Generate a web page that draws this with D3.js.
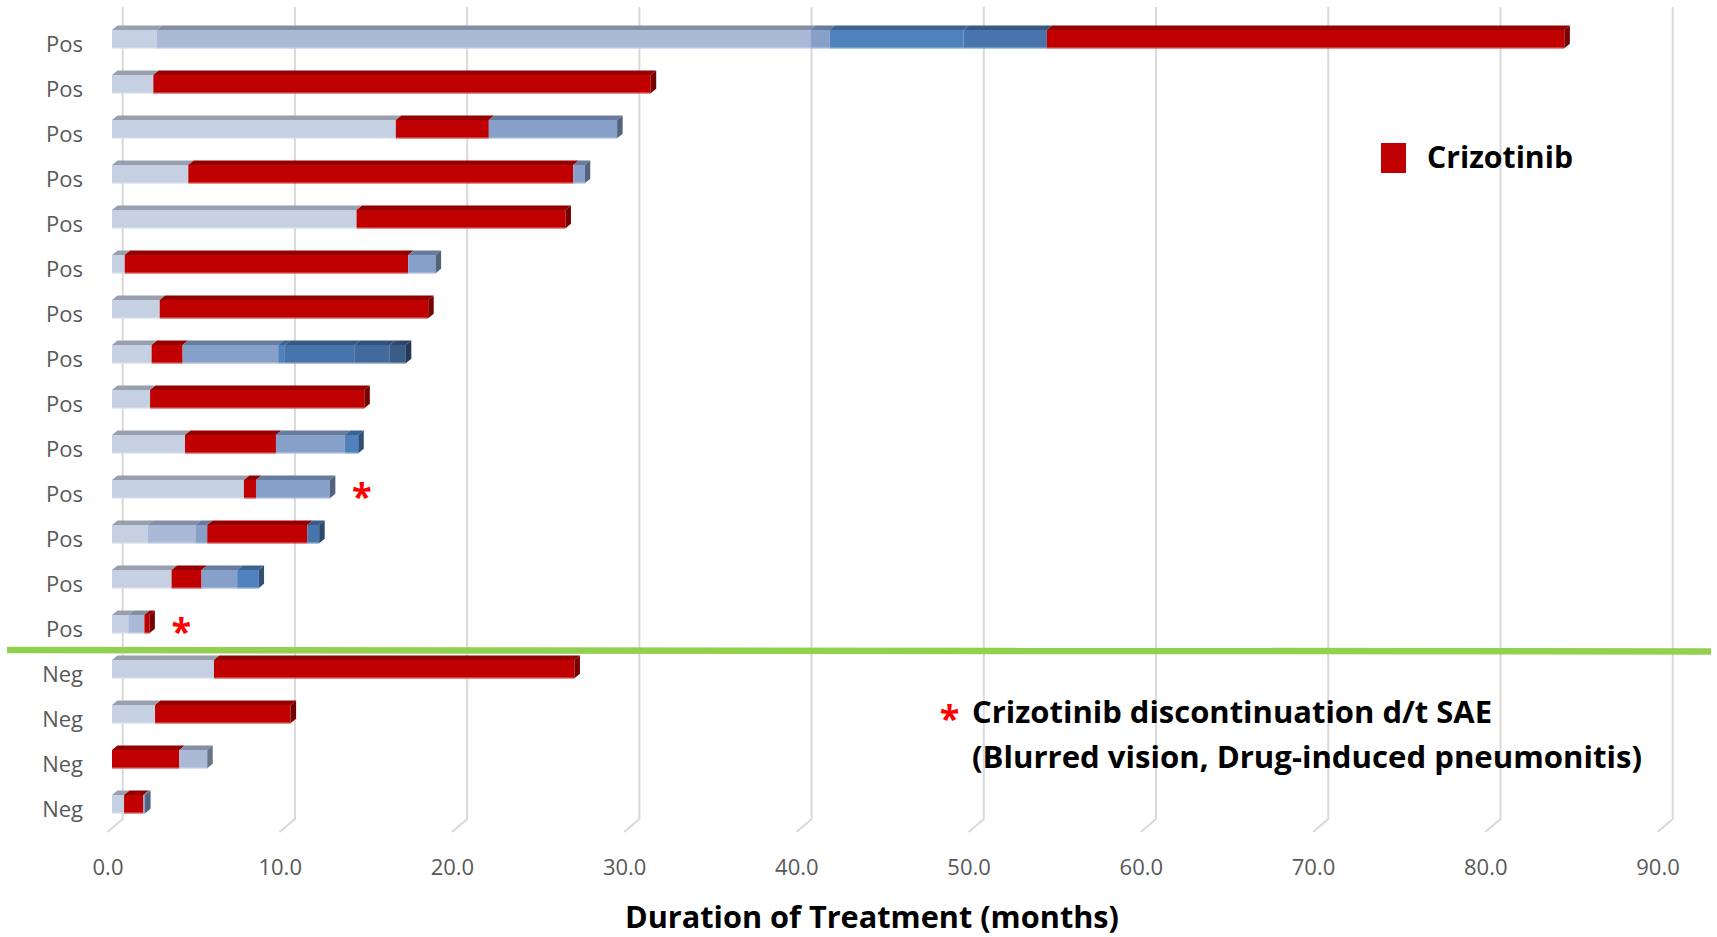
<!DOCTYPE html>
<html>
<head>
<meta charset="utf-8">
<script src="https://cdn.jsdelivr.net/npm/d3@7"></script>
<style>
  html, body { margin: 0; padding: 0; background: #ffffff; }
  svg { display: block; }
</style>
</head>
<body>
<svg id="chart" width="1717" height="937"></svg>
<script>
// Patients (rows, top to bottom) with ALK status
const categories = ["Pos","Pos","Pos","Pos","Pos","Pos","Pos","Pos","Pos","Pos","Pos","Pos","Pos","Pos","Neg","Neg","Neg","Neg"];

// Duration (months) of each successive line of treatment per patient
const line1 = [2.59, 2.40, 16.48, 4.43, 14.20, 0.74, 2.77, 2.30, 2.21, 4.24, 7.66, 2.07, 3.46, 0.95, 5.92, 2.50, 3.91, 0.70];
const line2 = [37.96, 28.88, 5.40, 22.35, 12.13, 16.46, 15.59, 1.80, 12.44, 5.28, 0.70, 2.77, 1.74, 0.93, 20.93, 7.87, 1.62, 1.12];
const line3 = [1.12, 0, 7.45, 0.67, 0, 1.59, 0, 5.55, 0, 4.00, 4.29, 0.69, 2.07, 0.29, 0, 0, 0, 0.10];
const line4 = [7.78, 0, 0, 0, 0, 0, 0, 0.39, 0, 0.78, 0, 5.81, 1.24, 0, 0, 0, 0, 0];
const line5 = [4.83, 0, 0, 0, 0, 0, 0, 4.06, 0, 0, 0, 0.69, 0, 0, 0, 0, 0, 0];
const line6 = [30.05, 0, 0, 0, 0, 0, 0, 2.03, 0, 0, 0, 0, 0, 0, 0, 0, 0, 0];
const line7 = [0, 0, 0, 0, 0, 0, 0, 0.93, 0, 0, 0, 0, 0, 0, 0, 0, 0, 0];

// Which line (1-based) was crizotinib for each patient
const crizotinibLine = [6, 2, 2, 2, 2, 2, 2, 2, 2, 2, 2, 4, 2, 3, 2, 2, 1, 2];

// Crizotinib stopped because of a serious adverse event
const saeFlags = [false, false, false, false, false, false, false, false, false, false, true, false, false, true, false, false, false, false];

const tickValues = [0, 10, 20, 30, 40, 50, 60, 70, 80, 90];

const lineColors = ["#C5D0E3", "#AAB9D6", "#86A0CA", "#4F81BD", "#4874AC", "#426A9C", "#3A5C87"];
const crizotinibColor = "#C00000";
const separatorColor = "#92D050";

const axisTitle = "Duration of Treatment (months)";
const legendLabel = "Crizotinib";
const noteLines = ["Crizotinib discontinuation d/t SAE", "(Blurred vision, Drug-induced pneumonitis)"];

const lines = [line1, line2, line3, line4, line5, line6, line7];

// ---------------------------------------------------------------
const svg = d3.select("#chart");
const FONT = "'Open Sans', 'Noto Sans', sans-serif";

// front face of the bars
const x = d3.scaleLinear().domain([0, 90]).range([112, 1662]);
const y = d3.scaleBand().domain(d3.range(categories.length)).range([22.5, 832.5]);
const bw = y.bandwidth();

// oblique 3D geometry
const wallShift = 10.7;     // back wall relative to bar fronts
const floorShift = -4.5;    // front floor edge relative to bar fronts
const wallTop = 7, floorBack = 819, floorFront = 832;
const depthX = 5.5, depthY = 4.5;

function shade(c, k) {
  const r = d3.rgb(c);
  return d3.rgb(r.r * k, r.g * k, r.b * k).formatHex();
}
function tint(c, k) {
  const r = d3.rgb(c);
  return d3.rgb(r.r + (255 - r.r) * k, r.g + (255 - r.g) * k, r.b + (255 - r.b) * k).formatHex();
}

// gridlines on the back wall plus their run across the floor
const grid = svg.append("g").attr("fill", "none").attr("stroke", "#D9D9D9").attr("stroke-width", 2);
grid.selectAll("path").data(tickValues).join("path")
  .attr("d", v => {
    const xb = x(v) + wallShift, xf = x(v) + floorShift;
    return `M${xb},${wallTop}V${floorBack}L${xf},${floorFront}`;
  });

// value axis labels along the front floor edge
const xFloor = x.copy().range(x.range().map(r => r + floorShift));
const xAxis = svg.append("g")
  .attr("transform", "translate(0,859)")
  .call(d3.axisBottom(xFloor).tickValues(tickValues).tickFormat(d3.format(".1f")).tickSize(0).tickPadding(0));
xAxis.select(".domain").remove();
xAxis.selectAll("text").attr("font-family", FONT).attr("font-size", 22).attr("fill", "#595959");

// category labels
const yAxis = svg.append("g")
  .attr("transform", "translate(83,0)")
  .call(d3.axisLeft(y).tickFormat(i => categories[i]).tickSize(0).tickPadding(0));
yAxis.select(".domain").remove();
yAxis.selectAll("text").attr("font-family", FONT).attr("font-size", 22).attr("fill", "#595959");

// stacked 3D bars
const rows = categories.map((c, i) => {
  let acc = 0;
  const segs = [];
  lines.forEach((arr, k) => {
    const d = arr[i];
    if (d > 0) {
      segs.push({ x0: acc, x1: acc + d, color: (k + 1 === crizotinibLine[i]) ? crizotinibColor : lineColors[k] });
      acc += d;
    }
  });
  return { i, segs, total: acc };
});

const barFrontTop = i => y(i) + bw * 0.167;
const barHeight = bw * 0.407;

const bars = svg.append("g");
rows.forEach(row => {
  const g = bars.append("g");
  const yt = barFrontTop(row.i), yb = yt + barHeight;
  // top faces
  g.selectAll("path.top").data(row.segs).join("path").attr("class", "top")
    .attr("fill", s => shade(s.color, 0.77))
    .attr("d", s => {
      const a = x(s.x0), b = x(s.x1);
      return `M${a},${yt}L${a + depthX},${yt - depthY}L${b + depthX},${yt - depthY}L${b},${yt}Z`;
    });
  // front faces
  g.selectAll("rect.front").data(row.segs).join("rect").attr("class", "front")
    .attr("x", s => x(s.x0)).attr("y", yt)
    .attr("width", s => x(s.x1) - x(s.x0)).attr("height", barHeight)
    .attr("fill", s => s.color);
  // soft lower edge highlight
  g.selectAll("rect.edge").data(row.segs).join("rect").attr("class", "edge")
    .attr("x", s => x(s.x0)).attr("y", yb - 1)
    .attr("width", s => x(s.x1) - x(s.x0)).attr("height", 1)
    .attr("fill", s => tint(s.color, 0.35));
  // right side of the last segment
  const last = row.segs[row.segs.length - 1];
  const e = x(last.x1);
  g.append("path")
    .attr("fill", shade(last.color, 0.62))
    .attr("d", `M${e},${yt}L${e + depthX},${yt - depthY}L${e + depthX},${yb - depthY}L${e},${yb}Z`);
});

// SAE markers
svg.append("g").selectAll("text").data(rows.filter(r => saeFlags[r.i])).join("text")
  .attr("x", r => x(r.total) + 32)
  .attr("y", r => y(r.i) + bw / 2 + 14)
  .attr("text-anchor", "middle")
  .attr("font-family", FONT).attr("font-weight", 700).attr("font-size", 36)
  .attr("fill", "#FF0000")
  .text("*");

// separator between ALK-positive and ALK-negative patients
const firstNeg = categories.indexOf("Neg");
const sepY = y(firstNeg) - 2.5;
svg.append("line")
  .attr("x1", 7).attr("y1", sepY).attr("x2", 1711).attr("y2", sepY + 1.5)
  .attr("stroke", separatorColor).attr("stroke-width", 6.5);

// legend
svg.append("rect").attr("x", 1381).attr("y", 143).attr("width", 25).attr("height", 30).attr("fill", crizotinibColor);
svg.append("text").attr("x", 1427).attr("y", 168)
  .attr("font-family", FONT).attr("font-weight", 700).attr("font-size", 31).attr("fill", "#000")
  .attr("textLength", 146).attr("lengthAdjust", "spacingAndGlyphs")
  .text(legendLabel);

// SAE note
svg.append("text").attr("x", 949.5).attr("y", 731).attr("text-anchor", "middle")
  .attr("font-family", FONT).attr("font-weight", 700).attr("font-size", 36).attr("fill", "#FF0000")
  .text("*");
const noteWidths = [520, 670];
svg.append("g").selectAll("text").data(noteLines).join("text")
  .attr("x", 972).attr("y", (d, k) => 723 + k * 45)
  .attr("font-family", FONT).attr("font-weight", 700).attr("font-size", 31).attr("fill", "#000")
  .attr("textLength", (d, k) => noteWidths[k]).attr("lengthAdjust", "spacingAndGlyphs")
  .text(d => d);

// axis title
svg.append("text").attr("x", 872).attr("y", 928).attr("text-anchor", "middle")
  .attr("font-family", FONT).attr("font-weight", 700).attr("font-size", 31).attr("fill", "#000")
  .attr("textLength", 494).attr("lengthAdjust", "spacingAndGlyphs")
  .text(axisTitle);
</script>
</body>
</html>
